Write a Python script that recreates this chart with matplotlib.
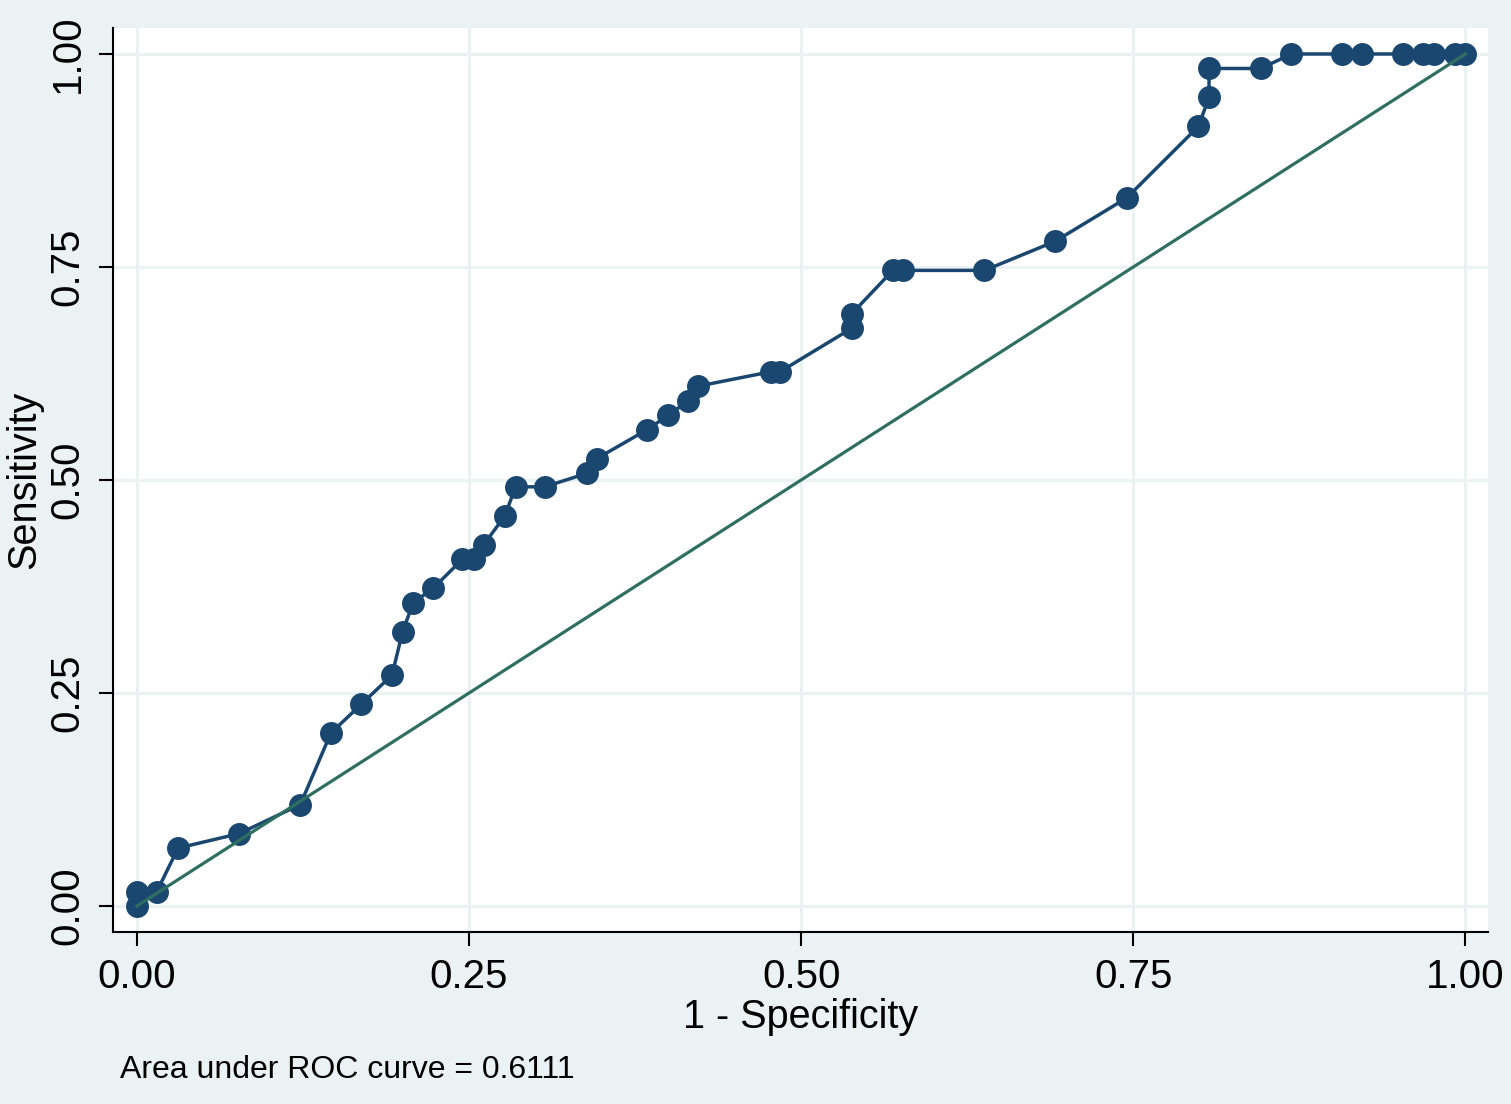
import numpy as np
import matplotlib
matplotlib.use("Agg")
import matplotlib.pyplot as plt

plt.rcParams['font.family'] = ['Liberation Sans', 'DejaVu Sans']

# ROC points (1 - specificity, sensitivity)
fpr = [0.000, 0.000, 0.015, 0.031, 0.077, 0.123, 0.146, 0.169, 0.192, 0.200,
       0.208, 0.223, 0.245, 0.254, 0.261, 0.277, 0.285, 0.307, 0.339, 0.346,
       0.384, 0.400, 0.415, 0.422, 0.477, 0.484, 0.538, 0.538, 0.569, 0.577,
       0.638, 0.691, 0.745, 0.799, 0.807, 0.807, 0.846, 0.869, 0.907, 0.922,
       0.953, 0.968, 0.976, 0.992, 1.000]
tpr = [0.000, 0.017, 0.017, 0.068, 0.085, 0.119, 0.203, 0.237, 0.271, 0.322,
       0.356, 0.373, 0.407, 0.407, 0.424, 0.458, 0.492, 0.492, 0.508, 0.525,
       0.559, 0.576, 0.593, 0.610, 0.627, 0.627, 0.678, 0.695, 0.746, 0.746,
       0.746, 0.780, 0.831, 0.915, 0.949, 0.983, 0.983, 1.000, 1.000, 1.000,
       1.000, 1.000, 1.000, 1.000, 1.000]
ticks = [0.0, 0.25, 0.5, 0.75, 1.0]
tick_labels = ['0.00', '0.25', '0.50', '0.75', '1.00']
auc_text = 'Area under ROC curve = 0.6111'

bg = '#eaf2f3'
navy = '#1a476f'
green = '#2f6f62'

fig = plt.figure(figsize=(15.11, 11.04), dpi=100, facecolor=bg)
ax = fig.add_axes([113 / 1511, 172 / 1104, 1375 / 1511, 904 / 1104])
ax.set_facecolor('white')

ax.set_xlim(-0.018, 1.017)
ax.set_ylim(-0.0305, 1.0305)

for t in ticks:
    ax.axvline(t, color=bg, lw=2.2, zorder=0)
    ax.axhline(t, color=bg, lw=2.2, zorder=0)

ax.plot(fpr, tpr, color=navy, lw=2.5, marker='o', ms=15.5, zorder=3)
ax.plot([0, 1], [0, 1], color=green, lw=2.3, zorder=4)

for side in ['top', 'right']:
    ax.spines[side].set_visible(False)
for side in ['left', 'bottom']:
    ax.spines[side].set_linewidth(1.5)

ax.set_xticks(ticks)
ax.set_xticklabels(tick_labels)
ax.set_yticks(ticks)
ax.set_yticklabels(tick_labels, rotation=90, va='center')
ax.tick_params(axis='both', length=10, width=1.5, labelsize=29, pad=9)

ax.set_xlabel('1 - Specificity', fontsize=28.5, labelpad=1)
ax.set_ylabel('Sensitivity', fontsize=28.5, labelpad=4)

fig.text(120 / 1511, 1 - 1070 / 1104, auc_text, fontsize=23, va='center', ha='left')

fig.savefig('out.png', dpi=100, facecolor=bg)
